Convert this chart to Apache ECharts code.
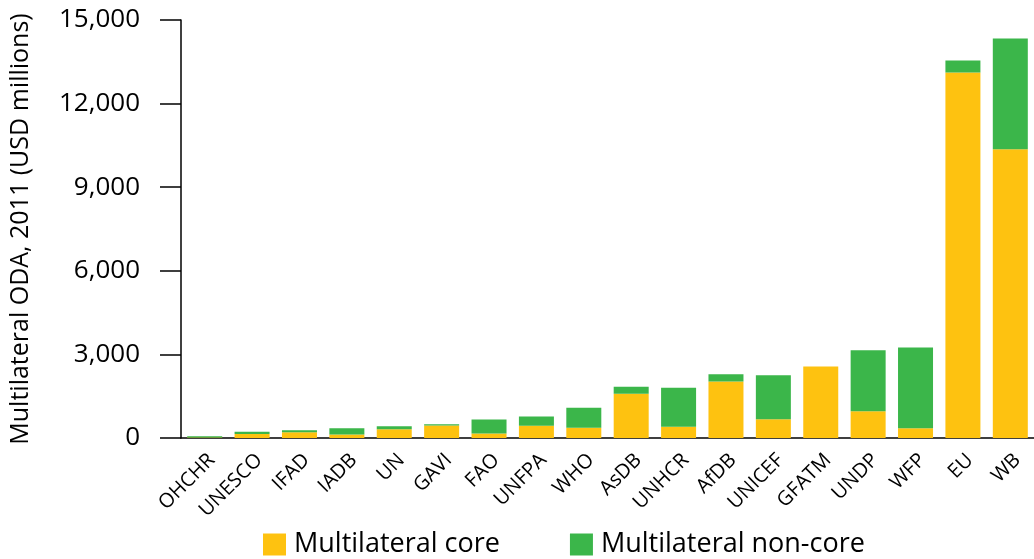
<!DOCTYPE html>
<html>
<head>
<meta charset="utf-8">
<script src="https://cdn.jsdelivr.net/npm/echarts@6/dist/echarts.min.js"></script>
<style>
html,body{margin:0;padding:0;background:#fff;}
#main{width:1034px;height:559px;}
</style>
</head>
<body>
<div id="main"></div>
<script>
var categories = ['OHCHR','UNESCO','IFAD','IADB','UN','GAVI','FAO','UNFPA','WHO','AsDB','UNHCR','AfDB','UNICEF','GFATM','UNDP','WFP','EU','WB'];
var coreValues = [15, 140, 210, 130, 310, 450, 160, 440, 370, 1590, 400, 2030, 670, 2570, 960, 350, 13120, 10360];
var nonCoreValues = [50, 80, 70, 220, 110, 40, 500, 330, 720, 250, 1400, 260, 1580, 0, 2190, 2900, 430, 3980];
var yTicks = [0, 3000, 6000, 9000, 12000, 15000];

var FONT = 'Open Sans';
var chart = echarts.init(document.getElementById('main'));
chart.setOption({
  animation: false,
  textStyle: {fontFamily: FONT, color: '#000'},
  grid: {left: 179, top: 20, right: -4, bottom: 121, containLabel: false},
  legend: {
    left: 258, top: 526,
    itemWidth: 23, itemHeight: 22, itemGap: 70,
    icon: 'rect',
    textStyle: {fontFamily: FONT, fontSize: 27, color: '#000', padding: [0,0,0,3]},
    data: ['Multilateral core', 'Multilateral non-core']
  },
  xAxis: {
    type: 'category',
    data: categories,
    axisLine: {lineStyle: {color: '#000', width: 1.5}},
    axisTick: {show: false},
    axisLabel: {rotate: 45, fontSize: 20, color: '#000', margin: 12, verticalAlign: 'top', fontFamily: FONT, interval: 0}
  },
  yAxis: {
    type: 'value',
    min: 0, max: 15000, interval: 3000,
    name: 'Multilateral ODA, 2011 (USD millions)',
    nameLocation: 'middle',
    nameRotate: 90,
    nameGap: 148,
    nameTextStyle: {fontSize: 25, color: '#000', fontFamily: FONT},
    axisLine: {show: true, lineStyle: {color: '#000', width: 1.5}},
    axisTick: {show: true, length: 21, lineStyle: {color: '#000', width: 1.5}},
    splitLine: {show: false},
    axisLabel: {
      fontSize: 26, color: '#000', margin: 41, fontFamily: FONT,
      formatter: function (v) { return v.toLocaleString('en-US'); }
    }
  },
  series: [
    {name: 'Multilateral core', type: 'bar', stack: 's', data: coreValues, barWidth: 35,
     itemStyle: {color: '#FEC210'}},
    {name: 'Multilateral non-core', type: 'bar', stack: 's', data: nonCoreValues, barWidth: 35,
     itemStyle: {color: '#3BB64A'}}
  ]
});
</script>
</body>
</html>
